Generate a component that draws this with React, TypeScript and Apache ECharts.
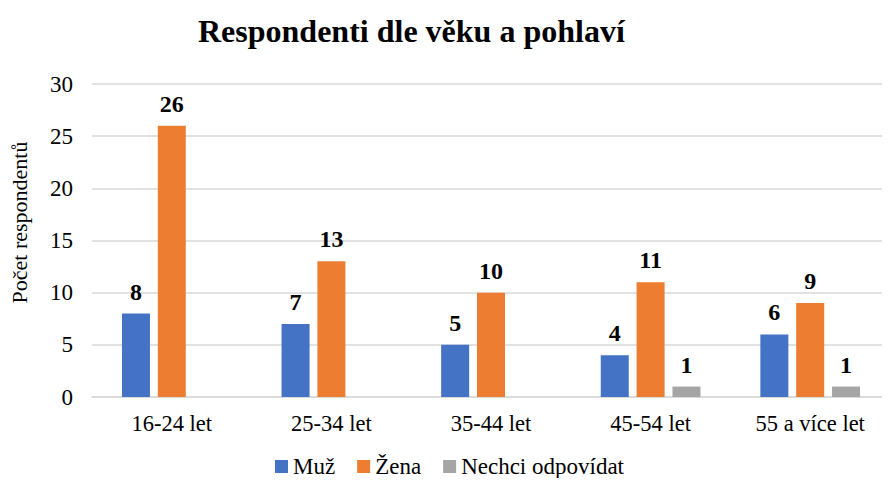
import React, { useEffect, useRef } from "react";
import * as echarts from "echarts";

const categories = ["16-24 let", "25-34 let", "35-44 let", "45-54 let", "55 a více let"];
const muz = [8, 7, 5, 4, 6];
const zena = [26, 13, 10, 11, 9];
const nechci: (number | null)[] = [null, null, null, 1, 1];
const yTicks = { min: 0, max: 30, interval: 5 };

const FONT = "Liberation Serif";

export default function App() {
  const ref = useRef<HTMLDivElement>(null);
  useEffect(() => {
    if (!ref.current) return;
    const chart = echarts.init(ref.current, undefined, { renderer: "svg" });
    const label = {
      show: true,
      position: "top" as const,
      distance: 10,
      fontFamily: FONT,
      fontSize: 24,
      fontWeight: "bold" as const,
      color: "#000",
    };
    chart.setOption({
      animation: false,
      backgroundColor: "#fff",
      textStyle: { fontFamily: FONT },
      title: {
        text: "Respondenti dle věku a pohlaví",
        left: 193,
        top: 10,
        textStyle: { fontFamily: FONT, fontSize: 32, fontWeight: "bold", color: "#000" },
      },
      legend: {
        left: 270,
        top: 450,
        itemWidth: 13,
        itemHeight: 13,
        itemGap: 22,
        icon: "rect",
        textStyle: { fontFamily: FONT, fontSize: 23, color: "#000" },
        data: ["Muž", "Žena", "Nechci odpovídat"],
      },
      grid: { left: 87, top: 84, width: 814, height: 313, containLabel: false },
      xAxis: {
        type: "category",
        data: categories,
        axisLine: { show: true, lineStyle: { color: "#D9D9D9", width: 1.5 } },
        axisTick: { show: false },
        axisLabel: { fontFamily: FONT, fontSize: 22.5, color: "#000", margin: 15 },
      },
      yAxis: {
        type: "value",
        min: yTicks.min,
        max: yTicks.max,
        interval: yTicks.interval,
        name: "Počet respondentů",
        nameLocation: "middle",
        nameGap: 62,
        nameTextStyle: { fontFamily: FONT, fontSize: 22, color: "#000", padding: [0, 0, 0, 36] },
        axisLine: { show: false },
        axisTick: { show: false },
        splitLine: { lineStyle: { color: "#D9D9D9", width: 1.5 } },
        axisLabel: { fontFamily: FONT, fontSize: 23, color: "#000", margin: 19 },
      },
      series: [
        { name: "Muž", type: "bar", data: muz, barWidth: 28, barGap: "28%", itemStyle: { color: "#4472C4" }, label },
        { name: "Žena", type: "bar", data: zena, barWidth: 28, barGap: "28%", itemStyle: { color: "#ED7D31" }, label },
        { name: "Nechci odpovídat", type: "bar", data: nechci, barWidth: 28, barGap: "28%", itemStyle: { color: "#A5A5A5" }, label },
      ],
    });
    return () => chart.dispose();
  }, []);
  return <div ref={ref} style={{ width: 890, height: 486, margin: -8 }} />;
}
